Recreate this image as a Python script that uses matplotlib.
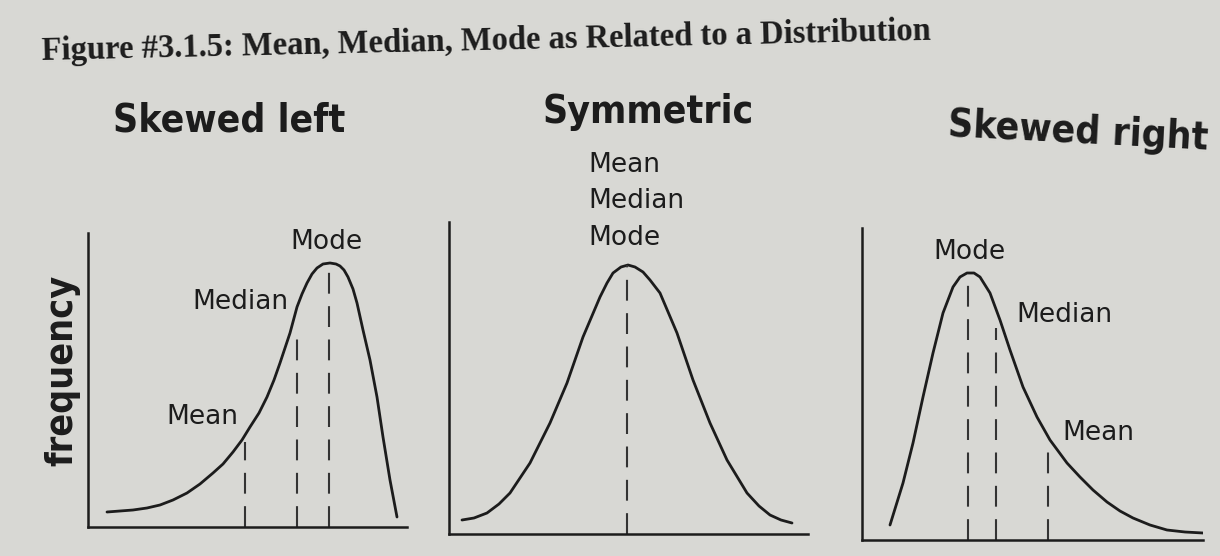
import matplotlib.pyplot as plt
from matplotlib import font_manager

left_x = [19, 32, 45, 59, 72, 85, 99, 112, 125, 135, 145, 154, 162, 171, 179, 186,
          192, 202, 209, 214, 219, 224, 229, 235, 242, 248, 252, 256, 260, 265,
          269, 275, 282, 289, 295, 302, 309]
left_y = [15, 16, 17, 19, 22, 27, 34, 43, 54, 63, 75, 87, 100, 114, 130, 147,
          164, 194, 220, 233, 244, 253, 259, 263, 264, 263, 261, 257, 250, 238,
          224, 197, 167, 130, 90, 47, 10]

sym_x = [13, 25, 38, 50, 61, 81, 101, 118, 134, 151, 158, 164, 172, 179, 186, 194,
         201, 211, 228, 244, 261, 278, 298, 310, 321, 332, 343]
sym_y = [14, 16, 21, 30, 41, 71, 111, 151, 197, 237, 251, 261, 267, 269, 267, 262,
         254, 241, 201, 154, 111, 74, 41, 28, 19, 14, 11]

right_x = [28, 41, 51, 61, 71, 81, 91, 98, 105, 112, 118, 128, 138, 148, 161, 175,
           188, 205, 218, 231, 245, 258, 271, 288, 305, 323, 341]
right_y = [15, 57, 97, 143, 187, 227, 253, 263, 267, 267, 263, 247, 220, 190, 153,
           123, 100, 77, 63, 50, 38, 29, 22, 15, 10, 8, 7]

# dashed marker lines: (x position, top)
left_marks = [(157, 85), (209, 199), (241, 262)]
sym_marks = [(178, 269)]
right_marks = [(106, 263), (134, 212), (186, 88)]

# labels: (text, x, y)
left_labels = [("Mode", 238, 285), ("Median", 152, 225), ("Mean", 114, 110)]
sym_labels = [("Mean", 139, 369), ("Median", 139, 333), ("Mode", 139, 296)]
right_labels = [("Mode", 107, 288), ("Median", 202, 225), ("Mean", 236, 107)]

panel_titles = ["Skewed left", "Symmetric", "Skewed right"]

bg = "#d8d8d4"
ink = "#1c1c1c"
W, H = 1220, 556

# a condensed face gets closer to the tall, narrow headings of the photo
has_cond = any(f.name == "DejaVu Sans" and f.stretch == "condensed"
               for f in font_manager.fontManager.ttflist)
if has_cond:
    head_stretch, head_size, freq_size = "condensed", 28, 27
else:
    head_stretch, head_size, freq_size = "normal", 25, 22

fig = plt.figure(figsize=(12.2, 5.56), dpi=100, facecolor=bg)

# panel boxes in pixels: left, bottom(from top), width, height
boxes = [(88, 527, 319, 294), (449, 534, 359, 312), (862, 540, 341, 312)]
curves = [(left_x, left_y), (sym_x, sym_y), (right_x, right_y)]
marks = [left_marks, sym_marks, right_marks]
labels = [left_labels, sym_labels, right_labels]

for i in range(3):
    l, b, w, h = boxes[i]
    ax = fig.add_axes([l / W, (H - b) / H, w / W, h / H])
    ax.set_facecolor("none")
    ax.set_xlim(0, w)
    ax.set_ylim(0, h)
    for s in ["top", "right"]:
        ax.spines[s].set_visible(False)
    for s in ["left", "bottom"]:
        ax.spines[s].set_linewidth(1.8)
        ax.spines[s].set_color(ink)
    ax.set_xticks([])
    ax.set_yticks([])

    xs, ys = curves[i]
    ax.plot(xs, ys, color=ink, lw=2, solid_capstyle="round", solid_joinstyle="round")
    for mx, top in marks[i]:
        ax.plot([mx, mx], [0, top], color="#333333", lw=1.5, dashes=(10, 6))

    for txt, tx, ty in labels[i]:
        ha = "left" if i == 1 else "center"
        ax.text(tx, ty, txt, ha=ha, va="center", fontsize=19, color=ink,
                family="DejaVu Sans", clip_on=False)

# panel titles (baseline anchors)
title_pos = [(229, 131, 0), (648, 123, 0), (1077, 143, -3)]
for t, (px, py, rot) in zip(panel_titles, title_pos):
    fig.text(px / W, 1 - py / H, t, ha="center", va="baseline", fontsize=head_size,
             fontweight="bold", fontstretch=head_stretch, color=ink,
             family="DejaVu Sans", rotation=rot, rotation_mode="anchor")

fig.text(62 / W, 1 - 370 / H, "frequency", rotation=90, ha="center", va="center",
         fontsize=freq_size, fontweight="bold", fontstretch=head_stretch, color=ink,
         family="DejaVu Sans")

fig.text(42 / W, 1 - 60 / H, "Figure #3.1.5: Mean, Median, Mode as Related to a Distribution",
         ha="left", va="baseline", fontsize=23.5, fontweight="bold", color=ink,
         family="Liberation Serif", rotation=1.3, rotation_mode="anchor")

fig.savefig("out.png", dpi=100, facecolor=bg)
